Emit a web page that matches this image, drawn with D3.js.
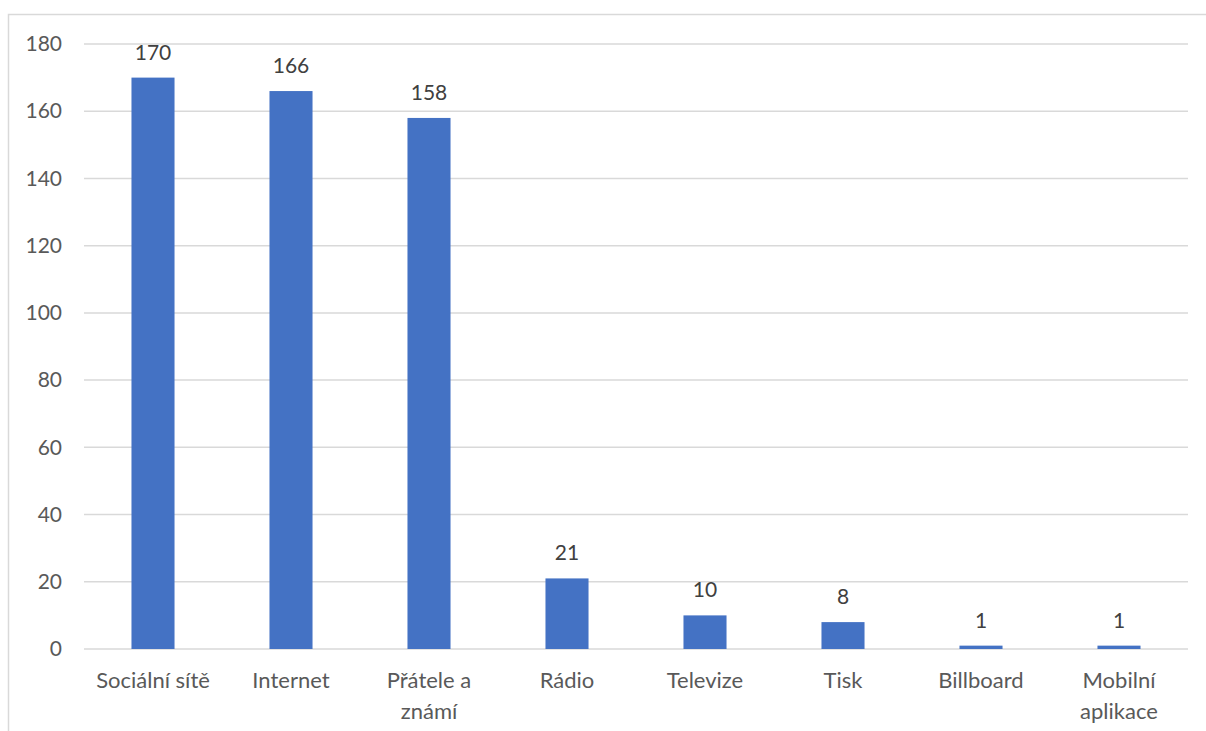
<!DOCTYPE html>
<html>
<head>
<meta charset="utf-8">
<script src="https://cdn.jsdelivr.net/npm/d3@7"></script>
<style>
  body { margin: 0; background: #fff; }
  text { font-family: Lato, "Open Sans", sans-serif; }
</style>
</head>
<body>
<div id="chart"></div>
<script>
// chart data
var categories = ["Sociální sítě", "Internet", "Přátele a známí", "Rádio", "Televize", "Tisk", "Billboard", "Mobilní aplikace"];
var values = [170, 166, 158, 21, 10, 8, 1, 1];
var yTicks = [0, 20, 40, 60, 80, 100, 120, 140, 160, 180];

var width = 1206, height = 731;
var margin = {top: 44, right: 18, bottom: 82, left: 84};

var svg = d3.select("#chart").append("svg")
    .attr("width", width)
    .attr("height", height);

// outer frame (chart area border)
svg.append("rect")
    .attr("x", 8.5).attr("y", 14.5)
    .attr("width", width).attr("height", height)
    .attr("fill", "none")
    .attr("stroke", "#d9d9d9")
    .attr("stroke-width", 1.5);

var x = d3.scaleBand()
    .domain(categories)
    .range([margin.left, width - margin.right])
    .paddingInner(0.688)
    .paddingOuter(0.344);

var y = d3.scaleLinear()
    .domain([0, 180])
    .range([height - margin.bottom, margin.top]);

// gridlines
svg.append("g").selectAll("line")
    .data(yTicks)
    .enter().append("line")
    .attr("x1", margin.left)
    .attr("x2", width - margin.right)
    .attr("y1", function(d) { return y(d); })
    .attr("y2", function(d) { return y(d); })
    .attr("stroke", "#d9d9d9")
    .attr("stroke-width", 1.5);

// y axis labels
var yAxis = d3.axisLeft(y).tickValues(yTicks).tickSize(0).tickPadding(22);
var gy = svg.append("g")
    .attr("transform", "translate(" + margin.left + ",0)")
    .call(yAxis);
gy.select(".domain").remove();
gy.selectAll("text")
    .attr("fill", "#595959")
    .style("font-size", "21px");

// bars
svg.append("g").selectAll("rect")
    .data(values)
    .enter().append("rect")
    .attr("x", function(d, i) { return x(categories[i]); })
    .attr("y", function(d) { return y(d); })
    .attr("width", x.bandwidth())
    .attr("height", function(d) { return y(0) - y(d); })
    .attr("fill", "#4472c4");

// value labels
svg.append("g").selectAll("text")
    .data(values)
    .enter().append("text")
    .attr("x", function(d, i) { return x(categories[i]) + x.bandwidth() / 2; })
    .attr("y", function(d) { return y(d) - 18; })
    .attr("text-anchor", "middle")
    .attr("fill", "#404040")
    .style("font-size", "21px")
    .text(function(d) { return d; });

// category labels, wrapped like the original
var wrapped = {"Přátele a známí": ["Přátele a", "známí"], "Mobilní aplikace": ["Mobilní", "aplikace"]};
var gx = svg.append("g");
categories.forEach(function(c) {
    var lines = wrapped[c] || [c];
    var t = gx.append("text")
        .attr("text-anchor", "middle")
        .attr("fill", "#595959")
        .style("font-size", "22px");
    lines.forEach(function(l, j) {
        t.append("tspan")
            .attr("x", x(c) + x.bandwidth() / 2)
            .attr("y", y(0) + 39 + j * 31)
            .text(l);
    });
});
</script>
</body>
</html>
